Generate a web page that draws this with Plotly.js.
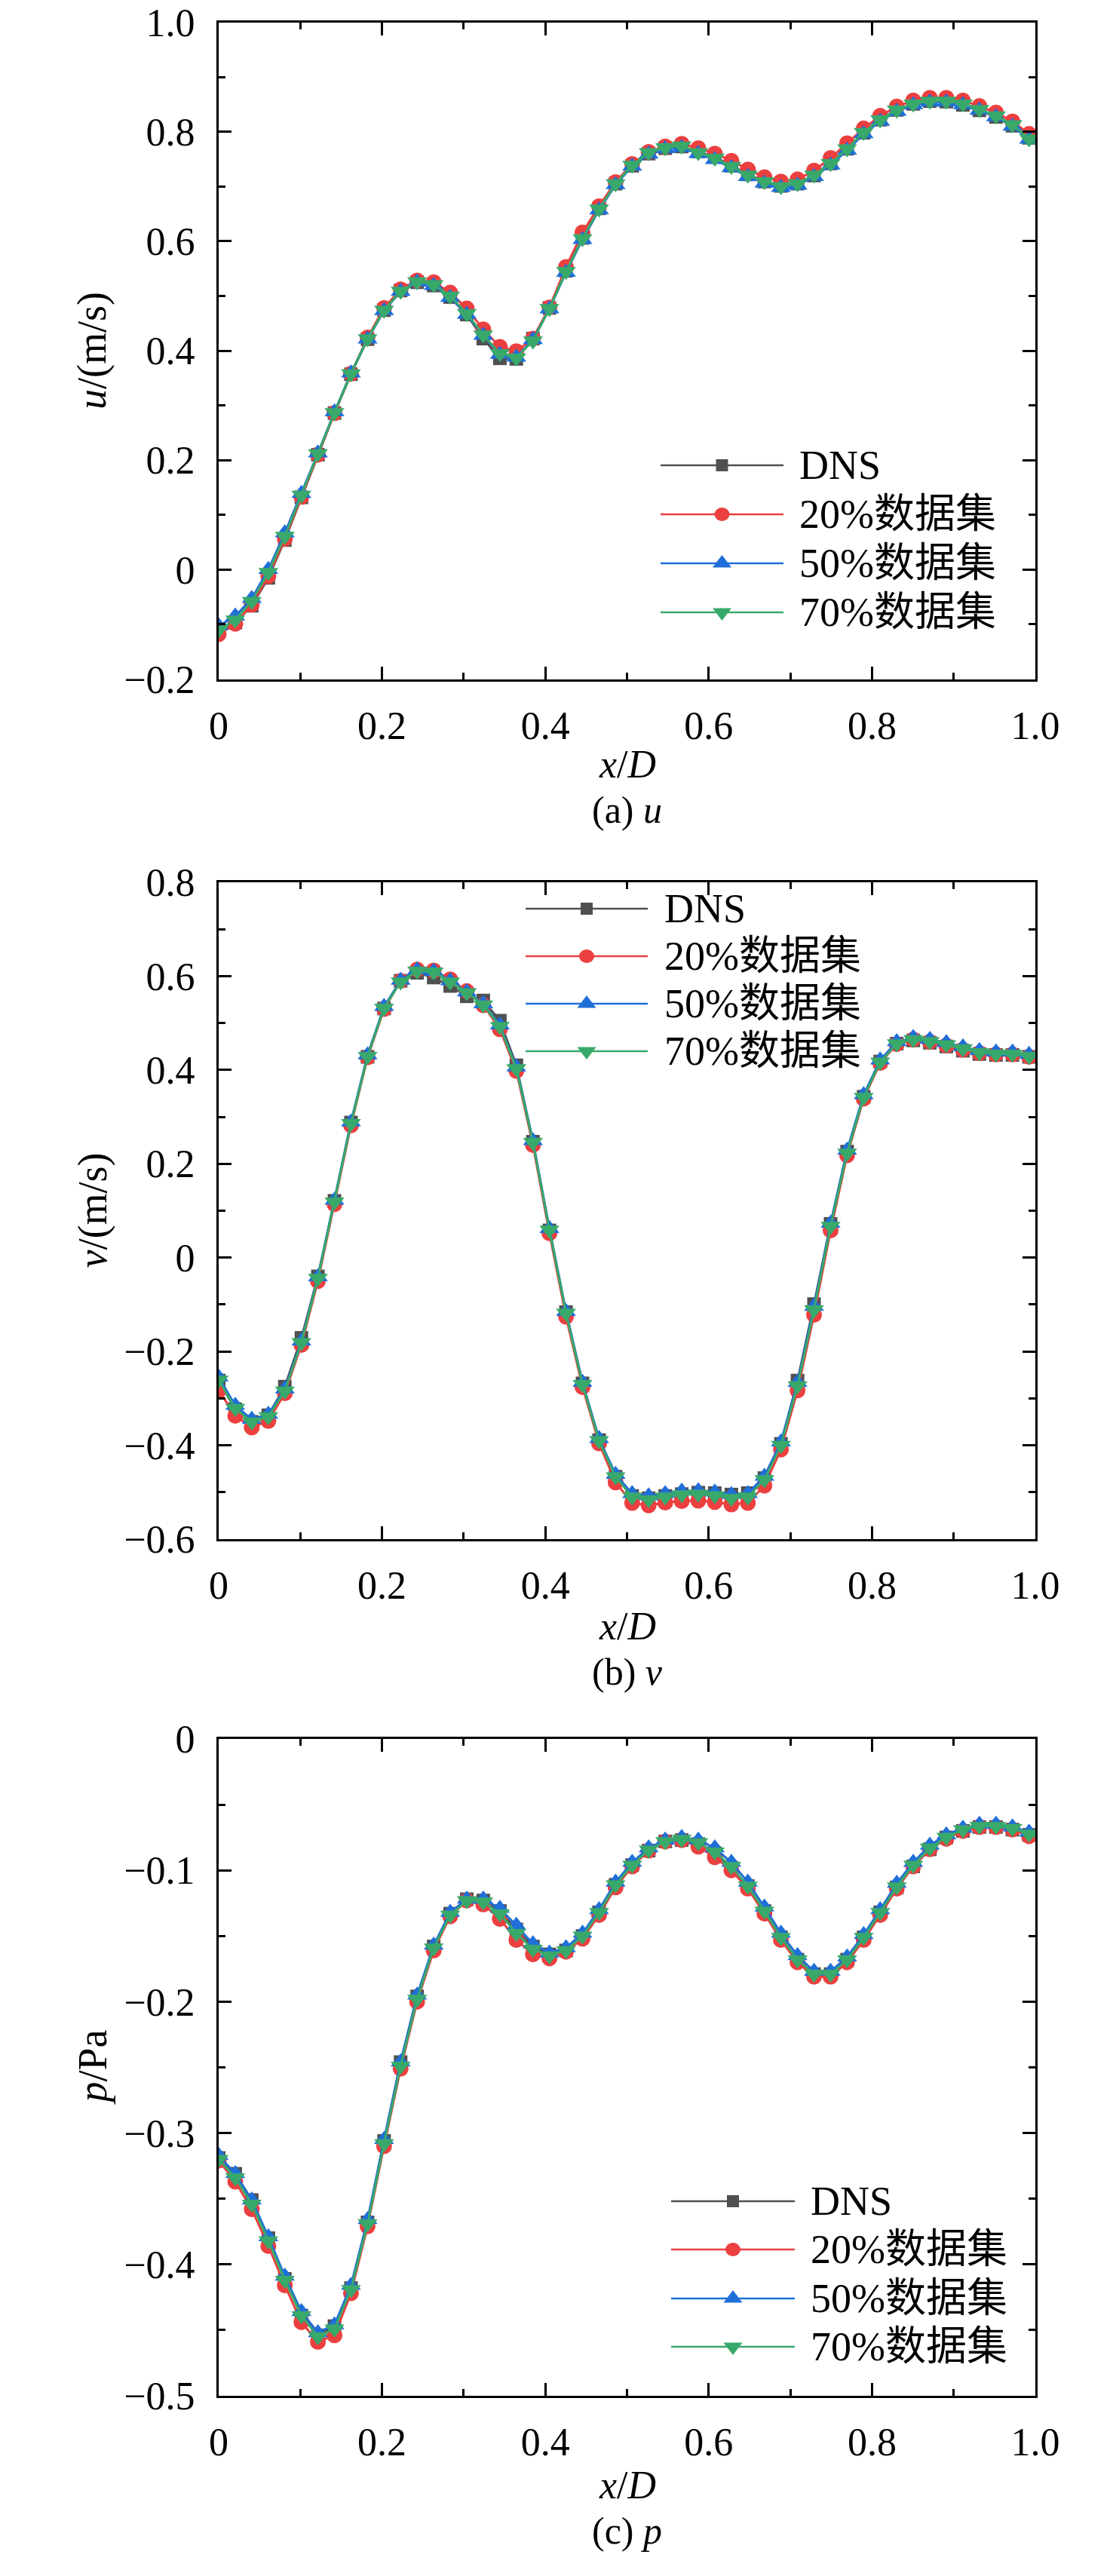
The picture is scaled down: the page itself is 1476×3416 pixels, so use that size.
<!DOCTYPE html>
<html>
<head>
<meta charset="utf-8">
<script src="https://cdn.plot.ly/plotly-3.0.1.min.js"></script>
<style>
  body { margin: 0; background: #fff; }
</style>
</head>
<body>
<div id="plot-area"></div>
<script>
// sample positions x/D (same for every series)
var xD = [0, 0.0203, 0.0405, 0.0608, 0.081, 0.1013, 0.1215, 0.1418, 0.162, 0.1823,
  0.2025, 0.2228, 0.243, 0.2633, 0.2835, 0.3038, 0.324, 0.3443, 0.3645, 0.3848,
  0.405, 0.4253, 0.4455, 0.4658, 0.486, 0.5063, 0.5265, 0.5468, 0.567, 0.5873,
  0.6075, 0.6278, 0.648, 0.6683, 0.6885, 0.7088, 0.729, 0.7493, 0.7695, 0.7898,
  0.81, 0.8303, 0.8505, 0.8708, 0.891, 0.9113, 0.9315, 0.9518, 0.972, 0.9923, 1.0125];

var seriesNames = ['DNS', '20%数据集', '50%数据集', '70%数据集'];

// (a) u
var uDNS = [-0.112, -0.097, -0.066, -0.015, 0.054, 0.132, 0.210, 0.286, 0.357, 0.421,
  0.474, 0.510, 0.525, 0.519, 0.498, 0.466, 0.422, 0.386, 0.385, 0.422,
  0.478, 0.546, 0.606, 0.660, 0.705, 0.738, 0.760, 0.770, 0.773, 0.764,
  0.754, 0.738, 0.722, 0.709, 0.701, 0.705, 0.720, 0.742, 0.769, 0.798,
  0.822, 0.840, 0.851, 0.856, 0.855, 0.849, 0.839, 0.827, 0.811, 0.789, 0.768];
var u20 = [-0.118, -0.099, -0.064, -0.012, 0.056, 0.133, 0.210, 0.286, 0.358, 0.424,
  0.478, 0.512, 0.528, 0.525, 0.506, 0.477, 0.439, 0.407, 0.399, 0.422,
  0.479, 0.553, 0.616, 0.664, 0.708, 0.741, 0.763, 0.773, 0.778, 0.770,
  0.760, 0.747, 0.731, 0.717, 0.709, 0.713, 0.729, 0.752, 0.779, 0.806,
  0.829, 0.846, 0.857, 0.862, 0.862, 0.857, 0.847, 0.835, 0.819, 0.796, 0.775];
var u50 = [-0.103, -0.085, -0.053, 0.000, 0.067, 0.139, 0.213, 0.288, 0.359, 0.421,
  0.473, 0.508, 0.525, 0.519, 0.497, 0.466, 0.428, 0.393, 0.388, 0.420,
  0.476, 0.543, 0.603, 0.657, 0.703, 0.737, 0.759, 0.769, 0.771, 0.760,
  0.749, 0.734, 0.718, 0.706, 0.698, 0.702, 0.718, 0.739, 0.766, 0.796,
  0.819, 0.837, 0.849, 0.854, 0.854, 0.849, 0.839, 0.827, 0.810, 0.786, 0.764];
var u70 = [-0.110, -0.092, -0.058, -0.005, 0.061, 0.136, 0.212, 0.287, 0.358, 0.422,
  0.474, 0.509, 0.526, 0.521, 0.500, 0.468, 0.429, 0.395, 0.387, 0.418,
  0.477, 0.545, 0.605, 0.659, 0.705, 0.739, 0.762, 0.771, 0.774, 0.762,
  0.752, 0.737, 0.721, 0.709, 0.700, 0.705, 0.721, 0.742, 0.769, 0.799,
  0.822, 0.840, 0.851, 0.856, 0.856, 0.851, 0.841, 0.829, 0.813, 0.787, 0.765];

// (b) v
var vDNS = [-0.262, -0.323, -0.350, -0.336, -0.275, -0.171, -0.040, 0.121, 0.288, 0.428,
  0.531, 0.590, 0.607, 0.597, 0.579, 0.557, 0.548, 0.505, 0.410, 0.247,
  0.058, -0.116, -0.268, -0.389, -0.467, -0.508, -0.513, -0.508, -0.504, -0.501,
  -0.502, -0.505, -0.502, -0.470, -0.397, -0.262, -0.099, 0.072, 0.226, 0.343,
  0.418, 0.456, 0.463, 0.458, 0.450, 0.441, 0.434, 0.432, 0.432, 0.428, 0.426];
var v20 = [-0.283, -0.337, -0.362, -0.348, -0.289, -0.186, -0.050, 0.114, 0.282, 0.427,
  0.530, 0.590, 0.614, 0.612, 0.593, 0.568, 0.538, 0.487, 0.398, 0.240,
  0.052, -0.126, -0.276, -0.396, -0.479, -0.523, -0.528, -0.522, -0.519, -0.518,
  -0.521, -0.526, -0.523, -0.486, -0.409, -0.283, -0.122, 0.058, 0.218, 0.339,
  0.415, 0.455, 0.465, 0.460, 0.452, 0.443, 0.436, 0.433, 0.433, 0.428, 0.426];
var v50 = [-0.255, -0.315, -0.345, -0.334, -0.280, -0.178, -0.041, 0.122, 0.289, 0.432,
  0.535, 0.591, 0.613, 0.610, 0.590, 0.566, 0.541, 0.496, 0.406, 0.249,
  0.062, -0.115, -0.266, -0.386, -0.462, -0.503, -0.508, -0.503, -0.498, -0.497,
  -0.500, -0.505, -0.503, -0.466, -0.393, -0.266, -0.104, 0.073, 0.229, 0.347,
  0.421, 0.460, 0.469, 0.465, 0.458, 0.449, 0.441, 0.438, 0.438, 0.433, 0.431];
var v70 = [-0.261, -0.321, -0.350, -0.339, -0.284, -0.181, -0.044, 0.119, 0.286, 0.429,
  0.532, 0.588, 0.611, 0.609, 0.588, 0.565, 0.539, 0.493, 0.403, 0.246,
  0.059, -0.118, -0.270, -0.390, -0.467, -0.510, -0.516, -0.510, -0.505, -0.504,
  -0.507, -0.513, -0.510, -0.473, -0.400, -0.273, -0.111, 0.067, 0.223, 0.342,
  0.417, 0.456, 0.465, 0.461, 0.454, 0.445, 0.437, 0.434, 0.434, 0.429, 0.427];

// (c) p
var pDNS = [-0.319, -0.331, -0.351, -0.380, -0.411, -0.439, -0.454, -0.447, -0.418, -0.368,
  -0.306, -0.246, -0.196, -0.158, -0.133, -0.122, -0.123, -0.131, -0.145, -0.158,
  -0.164, -0.161, -0.150, -0.132, -0.111, -0.096, -0.085, -0.078, -0.077, -0.080,
  -0.087, -0.098, -0.112, -0.131, -0.151, -0.168, -0.179, -0.179, -0.168, -0.151,
  -0.132, -0.113, -0.097, -0.084, -0.075, -0.070, -0.067, -0.067, -0.069, -0.073, -0.077];
var p20 = [-0.321, -0.337, -0.358, -0.386, -0.416, -0.444, -0.459, -0.454, -0.422, -0.371,
  -0.310, -0.251, -0.200, -0.161, -0.135, -0.123, -0.126, -0.137, -0.153, -0.164,
  -0.167, -0.162, -0.152, -0.134, -0.113, -0.097, -0.085, -0.078, -0.077, -0.082,
  -0.090, -0.100, -0.114, -0.133, -0.153, -0.170, -0.181, -0.181, -0.170, -0.153,
  -0.134, -0.114, -0.097, -0.084, -0.076, -0.070, -0.067, -0.067, -0.069, -0.074, -0.078];
var p50 = [-0.317, -0.331, -0.351, -0.379, -0.409, -0.436, -0.452, -0.446, -0.416, -0.366,
  -0.305, -0.246, -0.195, -0.157, -0.132, -0.122, -0.122, -0.129, -0.142, -0.156,
  -0.163, -0.159, -0.148, -0.130, -0.109, -0.094, -0.083, -0.077, -0.075, -0.077,
  -0.083, -0.094, -0.109, -0.128, -0.148, -0.165, -0.177, -0.177, -0.166, -0.149,
  -0.130, -0.110, -0.094, -0.081, -0.073, -0.068, -0.065, -0.065, -0.067, -0.071, -0.076];
var p70 = [-0.320, -0.334, -0.354, -0.382, -0.412, -0.439, -0.455, -0.449, -0.419, -0.369,
  -0.308, -0.249, -0.198, -0.159, -0.134, -0.123, -0.124, -0.133, -0.148, -0.160,
  -0.165, -0.161, -0.150, -0.132, -0.111, -0.096, -0.0845, -0.078, -0.0763, -0.079,
  -0.086, -0.097, -0.112, -0.131, -0.151, -0.168, -0.179, -0.179, -0.168, -0.151,
  -0.132, -0.1125, -0.096, -0.083, -0.0747, -0.069, -0.0664, -0.0664, -0.068, -0.0724, -0.077];

// tick labels
var xTickVals = [0, 0.2, 0.4, 0.6, 0.8, 1.0];
var xTickText = ['0', '0.2', '0.4', '0.6', '0.8', '1.0'];
var uTickVals = [-0.2, 0, 0.2, 0.4, 0.6, 0.8, 1.0];
var uTickText = ['\u22120.2', '0', '0.2', '0.4', '0.6', '0.8', '1.0'];
var vTickVals = [-0.6, -0.4, -0.2, 0, 0.2, 0.4, 0.6, 0.8];
var vTickText = ['\u22120.6', '\u22120.4', '\u22120.2', '0', '0.2', '0.4', '0.6', '0.8'];
var pTickVals = [-0.5, -0.4, -0.3, -0.2, -0.1, 0];
var pTickText = ['\u22120.5', '\u22120.4', '\u22120.3', '\u22120.2', '\u22120.1', '0'];

// styling
var W = 1476, H = 3416;
var serif = 'Liberation Serif, Noto Sans CJK SC, serif';
var colors = ['#505050', '#ec3f3f', '#1f6fd8', '#38a96a'];
var symbols = ['square', 'circle', 'triangle-up', 'triangle-down'];
var msizes = [18, 21, 23, 23];

function px(x) { return x / W; }
function py(y) { return 1 - y / H; }

var panels = [
  { ys: [uDNS, u20, u50, u70], range: [-0.2, 1.0], tv: uTickVals, tt: uTickText, minor: 0.1,
    top: 29.5, bottom: 900.5, ytitle: '<i>u</i>/(m/s)', caption: '(a) <i>u</i>',
    xtY: 1013, capY: 1074,
    leg: { x0: 876, x1: 1039, tx: 1058, rows: [617, 682, 747, 812] } },
  { ys: [vDNS, v20, v50, v70], range: [-0.6, 0.8], tv: vTickVals, tt: vTickText, minor: 0.1,
    top: 1170, bottom: 2041, ytitle: '<i>v</i>/(m/s)', caption: '(b) <i>v</i>',
    xtY: 2156, capY: 2217,
    leg: { x0: 697, x1: 859, tx: 879, rows: [1205, 1268, 1331, 1394] } },
  { ys: [pDNS, p20, p50, p70], range: [-0.5, 0], tv: pTickVals, tt: pTickText, minor: 0.05,
    top: 2306, bottom: 3177, ytitle: '<i>p</i>/Pa', caption: '(c) <i>p</i>',
    xtY: 3295, capY: 3356,
    leg: { x0: 890, x1: 1054, tx: 1073, rows: [2919, 2983, 3048, 3112] } }
];

var plotLeft = 290, plotRight = 1373;

function axisBase(tv, tt, minorStep) {
  return {
    tickmode: 'array', tickvals: tv, ticktext: tt,
    ticks: 'inside', ticklen: 17, tickwidth: 3, tickcolor: '#000',
    showline: true, linewidth: 3, linecolor: '#000', mirror: 'ticks',
    showgrid: false, zeroline: false, fixedrange: true,
    minor: { tickmode: 'linear', tick0: 0, dtick: minorStep, ticks: 'inside',
             ticklen: 9, tickwidth: 3, tickcolor: '#000', showgrid: false },
    tickfont: { family: serif, size: 52, color: '#000' }
  };
}

var traces = [];
var layout = {
  width: W, height: H,
  margin: { l: 0, r: 0, t: 0, b: 0 },
  paper_bgcolor: '#fff', plot_bgcolor: '#fff',
  showlegend: false,
  font: { family: serif, color: '#000' },
  shapes: [], annotations: []
};

panels.forEach(function (p, k) {
  var sfx = k === 0 ? '' : String(k + 1);
  var xa = axisBase(xTickVals, xTickText, 0.1);
  xa.domain = [px(plotLeft), px(plotRight)];
  xa.range = [0, 1];
  xa.anchor = 'y' + sfx;
  xa.ticklabelstandoff = 14;
  var ya = axisBase(p.tv, p.tt, p.minor);
  ya.domain = [py(p.bottom), py(p.top)];
  ya.range = p.range;
  ya.anchor = 'x' + sfx;
  ya.ticklabelstandoff = 18;
  layout['xaxis' + sfx] = xa;
  layout['yaxis' + sfx] = ya;

  for (var s = 0; s < 4; s++) {
    traces.push({
      x: xD, y: p.ys[s], xaxis: 'x' + sfx, yaxis: 'y' + sfx,
      type: 'scatter', mode: 'lines+markers', name: seriesNames[s],
      line: { color: colors[s], width: 3 },
      marker: { symbol: symbols[s], size: msizes[s], color: colors[s], line: { width: 0 } },
      cliponaxis: true, showlegend: false
    });
  }

  var midY = (p.top + p.bottom) / 2;
  var midX = (plotLeft + plotRight) / 2;
  layout.annotations.push(
    { xref: 'paper', yref: 'paper', x: px(122), y: py(midY), text: p.ytitle,
      textangle: -90, showarrow: false, xanchor: 'center', yanchor: 'middle',
      font: { family: serif, size: 54, color: '#000' } },
    { xref: 'paper', yref: 'paper', x: px(midX), y: py(p.xtY), text: '<i>x</i>/<i>D</i>',
      showarrow: false, xanchor: 'center', yanchor: 'middle',
      font: { family: serif, size: 52, color: '#000' } },
    { xref: 'paper', yref: 'paper', x: px(midX), y: py(p.capY), text: p.caption,
      showarrow: false, xanchor: 'center', yanchor: 'middle',
      font: { family: serif, size: 50, color: '#000' } }
  );

  // hand drawn legend with long sample lines, as in the original
  var L = p.leg;
  var mid = (L.x0 + L.x1) / 2;
  for (var s2 = 0; s2 < 4; s2++) {
    var ry = L.rows[s2];
    layout.shapes.push({ type: 'line', xref: 'paper', yref: 'paper',
      x0: px(L.x0), x1: px(L.x1), y0: py(ry), y1: py(ry),
      line: { color: colors[s2], width: 2.5 } });
    var mk = { xref: 'paper', yref: 'paper', xsizemode: 'pixel', ysizemode: 'pixel',
      xanchor: px(mid), yanchor: py(ry), fillcolor: colors[s2], line: { width: 0 } };
    if (s2 === 0) { mk.type = 'rect'; mk.x0 = -8; mk.x1 = 8; mk.y0 = -8; mk.y1 = 8; }
    else if (s2 === 1) { mk.type = 'circle'; mk.x0 = -10; mk.x1 = 10; mk.y0 = -9; mk.y1 = 9; }
    else if (s2 === 2) { mk.type = 'path'; mk.path = 'M-12.5,-5.5 L12.5,-5.5 L0,11 Z'; }
    else { mk.type = 'path'; mk.path = 'M-12.5,5.5 L12.5,5.5 L0,-11 Z'; }
    layout.shapes.push(mk);
    layout.annotations.push({ xref: 'paper', yref: 'paper', x: px(L.tx), y: py(ry),
      text: seriesNames[s2], showarrow: false, xanchor: 'left', yanchor: 'middle',
      font: { family: serif, size: 54, color: '#000' } });
  }
});

Plotly.newPlot('plot-area', traces, layout, { staticPlot: true, displayModeBar: false });
</script>
</body>
</html>
